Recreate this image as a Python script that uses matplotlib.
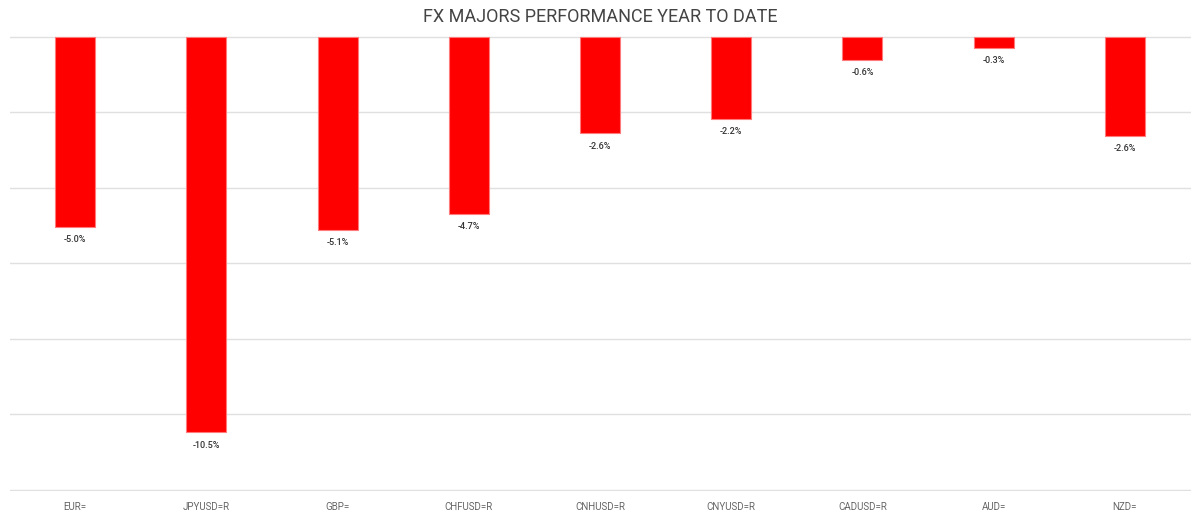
import matplotlib
matplotlib.use("Agg")
import matplotlib.pyplot as plt
import numpy as np

# FX majors YTD performance, %
tickers = ["EUR=", "JPYUSD=R", "GBP=", "CHFUSD=R", "CNHUSD=R",
           "CNYUSD=R", "CADUSD=R", "AUD=", "NZD="]
ytd_pct = [-5.04, -10.48, -5.12, -4.69, -2.56, -2.17, -0.61, -0.29, -2.62]
grid_levels = [0, -2, -4, -6, -8, -10, -12]

plt.rcParams["font.family"] = ["Roboto", "DejaVu Sans"]

fig = plt.figure(figsize=(12, 5.13), dpi=100)
ax = fig.add_axes([9.5 / 1200, 1 - 491 / 513, 1181 / 1200, 455 / 513])

x = np.arange(len(tickers))
ax.bar(x, ytd_pct, width=0.305, color="#ff0000", edgecolor="#ff7a7a",
       linewidth=0.8, zorder=3)

for xi, v in zip(x, ytd_pct):
    ax.annotate(f"{v:.1f}%", (xi, v), xytext=(0, -6), textcoords="offset points",
                ha="center", va="top", fontsize=6.5, color="#333333",
                fontweight="medium")

ax.set_xlim(-0.5, len(tickers) - 0.5)
ax.set_ylim(-12.03, 0.02)
ax.set_yticks(grid_levels)
ax.set_yticklabels([])
ax.tick_params(axis="y", length=0)
ax.grid(axis="y", color="#e0e0e0", linewidth=1, zorder=0)
ax.set_xticks(x)
ax.set_xticklabels(tickers, fontsize=7, color="#666666")
ax.tick_params(axis="x", length=0, pad=8)
for s in ax.spines.values():
    s.set_visible(False)

fig.text(0.5, 1 - 17 / 513, "FX MAJORS PERFORMANCE YEAR TO DATE", ha="center",
         va="center", fontsize=13, color="#444444")

fig.savefig("out.png", dpi=100)
